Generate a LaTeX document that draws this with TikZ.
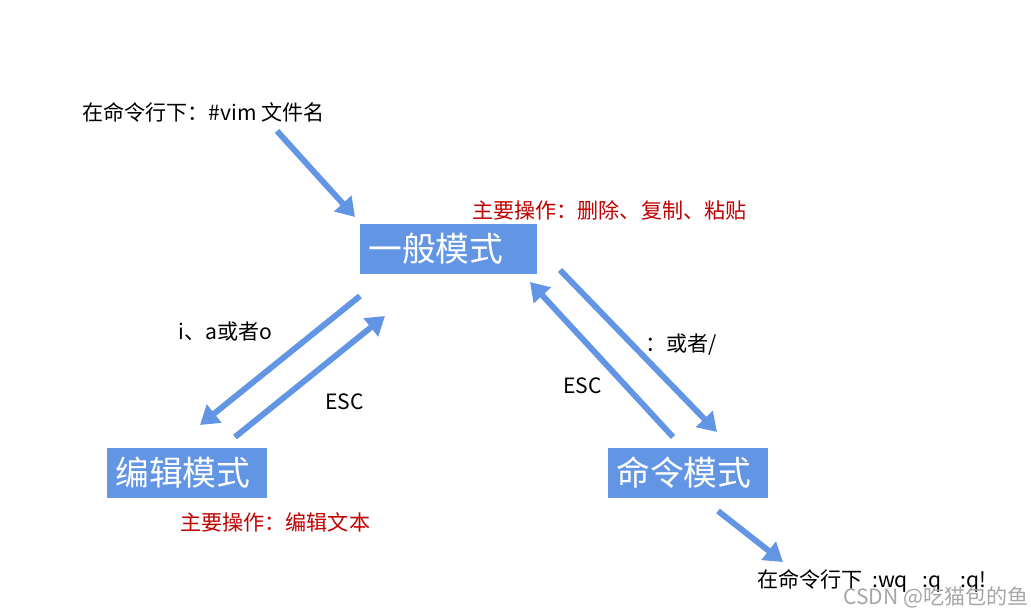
\documentclass[tikz,border=0pt]{standalone}
\usepackage{fontspec}
\setmainfont{Noto Sans CJK SC}
\usetikzlibrary{arrows.meta}
\definecolor{modeblue}{RGB}{98,150,228}
\definecolor{notered}{RGB}{192,0,0}

\begin{document}
\begin{tikzpicture}[x=0.025cm,y=-0.025cm,font=\fontsize{15}{18}\selectfont]
            \tikzstyle{mode box}=[fill=modeblue,text=white,font=\fontsize{24}{28}\selectfont,minimum height=1.25cm,inner xsep=0.2cm,anchor=west,align=left]
            \tikzstyle{plain text}=[anchor=west,inner sep=0]
            \tikzstyle{red note}=[plain text,text=notered]
            \tikzstyle{flow}=[color=modeblue,line width=4.2pt,-{Triangle[length=13pt,width=16pt]}]
            \useasboundingbox (0,0) rectangle (1031,616);
            % the three modes
            \node(normal)[mode box,text width=4.025cm] at (360,249) {一般模式};
            \node(insert)[mode box,text width=3.6cm] at (107,473) {编辑模式};
            \node(command)[mode box,text width=3.6cm] at (608,473) {命令模式};
            % texts
            \node(start)[plain text] at (82,112) {在命令行下：\#vim 文件名};
            \node(normalnote)[red note] at (472,210) {主要操作：删除、复制、粘贴};
            \node(insertnote)[red note] at (180,522) {主要操作：编辑文本};
            \node(toinsert)[plain text] at (178,331) {i、a或者o};
            \node(escleft)[plain text] at (325,402) {ESC};
            \node(tocommand)[plain text] at (645,345) {：或者/};
            \node(escright)[plain text] at (563,386) {ESC};
            \node(quit)[plain text] at (757,581) {在命令行下\hspace{0.45em}:wq\hspace{0.7em}:q\hspace{0.9em}:q!};
            \node(mark)[plain text,text=gray!70] at (843,597) {CSDN @吃猫包的鱼};
            % arrow ends
            \coordinate (a1) at (277,131); \coordinate (b1) at (355,217);
            \coordinate (a2) at (360,296); \coordinate (b2) at (200,425);
            \coordinate (a3) at (235,437); \coordinate (b3) at (385,316);
            \coordinate (a4) at (560,270); \coordinate (b4) at (717,432);
            \coordinate (a5) at (673,437); \coordinate (b5) at (530,282);
            \coordinate (a6) at (718,511); \coordinate (b6) at (783,562);
            \draw[flow] (a1) -- (b1);
            \draw[flow] (a2) -- (b2);
            \draw[flow] (a3) -- (b3);
            \draw[flow] (a4) -- (b4);
            \draw[flow] (a5) -- (b5);
            \draw[flow] (a6) -- (b6);
          \end{tikzpicture}
\end{document}
